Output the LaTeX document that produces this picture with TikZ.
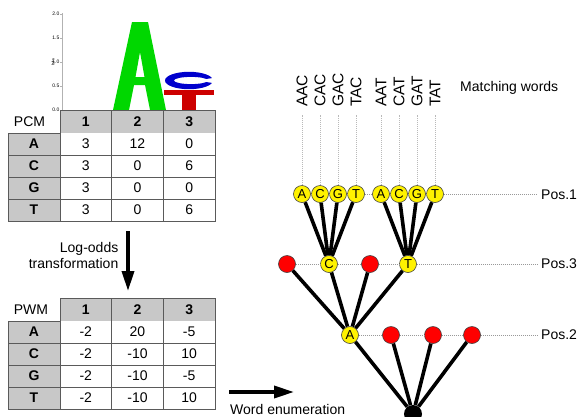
\documentclass[tikz,border=0pt]{standalone}
\usepackage{fontspec}
\setmainfont{Liberation Sans}
\usetikzlibrary{arrows.meta}
\definecolor{logogreen}{RGB}{0,215,0}
\definecolor{logoblue}{RGB}{0,0,205}
\definecolor{logored}{RGB}{205,0,0}
\definecolor{cellgray}{RGB}{200,200,200}
\definecolor{gridgray}{RGB}{90,90,90}
\begin{document}
\begin{tikzpicture}[x=1pt,y=-1pt,
  txt/.style={inner sep=0pt, font=\fontsize{14}{16}\selectfont},
  hdr/.style={txt, font=\fontsize{14}{16}\selectfont\bfseries},
  grid/.style={draw=gridgray, line width=0.7pt},
  circ/.style={circle, minimum size=17pt, inner sep=0pt, draw=black!75, line width=0.6pt, font=\fontsize{13}{13}\selectfont},
  yel/.style={circ, fill=yellow},
  rd/.style={circ, fill=red},
  treeedge/.style={line width=3.6pt, black},
  hdot/.style={draw=gray!80, line width=0.6pt, dash pattern=on 1pt off 1pt},
  vdot/.style={draw=gray!55, line width=0.5pt, dash pattern=on 1pt off 1pt},
  word/.style={inner sep=0pt, rotate=90, anchor=west, font=\fontsize{15.5}{16}\selectfont},
  bigarrow/.style={line width=3.5pt, -{Triangle[length=20pt,width=12pt]}},
  ticklab/.style={inner sep=0pt, anchor=east, font=\fontsize{5}{5}\selectfont}]
\useasboundingbox (0,0) rectangle (579,416);
\clip (0,0) rectangle (579,416);

% ---------------- sequence logo ----------------
\draw[gray!60, line width=0.6pt] (62,13) -- (62,110);
\foreach \yy/\lab in {14/2.0,38/1.5,62/1.0,86/0.5,110/0.0}{
  \draw[gray!60, line width=0.5pt] (60,\yy) -- (62,\yy);
  \node[ticklab] (tick\lab) at (59.5,\yy) {\lab};
}
\node[inner sep=0pt, rotate=90, font=\fontsize{4}{4}\selectfont] (bits) at (53,62) {bits};
% letter A
\fill[logogreen, even odd rule]
  (113,110) -- (132,22) -- (148,22) -- (166,110) -- (150,110) -- (145,85) -- (134,85) -- (129,110) -- cycle
  (135.5,77) -- (140,52) -- (144.5,77) -- cycle;
% letter C
\begin{scope}
  \clip (196,80.5) -- (216,77.5) -- (216,68) -- (160,68) -- (160,93) -- (216,93) -- (216,83.5) -- cycle;
  \fill[logoblue, even odd rule] (189,80.5) ellipse [x radius=24, y radius=8.7]
                                (191,80.5) ellipse [x radius=17, y radius=3.6];
\end{scope}
% letter T
\fill[logored] (164,90) rectangle (214,94.5);
\fill[logored] (182,94.5) rectangle (196,110);

% ---------------- PCM table ----------------
\fill[cellgray] (60,110) rectangle (215,133);
\fill[cellgray] (8,133) rectangle (60,221);
\draw[grid] (60,110) rectangle (215,221);
\draw[grid] (8,133) rectangle (60,221);
\foreach \xx in {111,163} \draw[grid] (\xx,110) -- (\xx,221);
\foreach \yy in {155,177,199} \draw[grid] (8,\yy) -- (215,\yy);
\node[txt] (pcmlab) at (29.5,122) {PCM};
\foreach \t [count=\i] in {1,2,3} \node[hdr] (pcmh\i) at ({60+51.67*(\i-0.5)},122) {\t};
\foreach \t [count=\i] in {A,C,G,T} \node[hdr] (pcmr\i) at (34,{133+22*(\i-0.5)}) {\t};
\foreach \va/\vb/\vc [count=\i] in {3/12/0,3/0/6,3/0/0,3/0/6}{
  \node[txt] (pcm\i a) at (85.8,{133+22*(\i-0.5)}) {\va};
  \node[txt] (pcm\i b) at (137.5,{133+22*(\i-0.5)}) {\vb};
  \node[txt] (pcm\i c) at (189.2,{133+22*(\i-0.5)}) {\vc};
}

% ---------------- log-odds arrow ----------------
\coordinate (lotop) at (128,231);
\coordinate (lobot) at (128,291);
\draw[bigarrow] (lotop) -- (lobot);
\node[txt, align=right, anchor=east] (logodds) at (118.5,255) {Log-odds\\transformation};

% ---------------- PWM table ----------------
\fill[cellgray] (60,298) rectangle (215,321);
\fill[cellgray] (8,321) rectangle (60,409);
\draw[grid] (60,298) rectangle (215,409);
\draw[grid] (8,321) rectangle (60,409);
\foreach \xx in {111,163} \draw[grid] (\xx,298) -- (\xx,409);
\foreach \yy in {343,365,387} \draw[grid] (8,\yy) -- (215,\yy);
\node[txt] (pwmlab) at (31,309.5) {PWM};
\foreach \t [count=\i] in {1,2,3} \node[hdr] (pwmh\i) at ({60+51.67*(\i-0.5)},309.5) {\t};
\foreach \t [count=\i] in {A,C,G,T} \node[hdr] (pwmr\i) at (34,{321+22*(\i-0.5)}) {\t};
\foreach \va/\vb/\vc [count=\i] in {-2/20/-5,-2/-10/10,-2/-10/-5,-2/-10/10}{
  \node[txt] (pwm\i a) at (85.8,{321+22*(\i-0.5)}) {\va};
  \node[txt] (pwm\i b) at (137.5,{321+22*(\i-0.5)}) {\vb};
  \node[txt] (pwm\i c) at (189.2,{321+22*(\i-0.5)}) {\vc};
}

% ---------------- word enumeration arrow ----------------
\coordinate (weleft) at (229,392);
\coordinate (weright) at (294,392);
\draw[bigarrow] (weleft) -- (weright);
\node[txt, anchor=west] (wordenum) at (230,409) {Word enumeration};

% ---------------- tree ----------------
% Pos.1
\node[yel] (a1) at (302,194) {A};
\node[yel] (c1) at (320,194) {C};
\node[yel] (g1) at (338,194) {G};
\node[yel] (t1) at (356,194) {T};
\node[yel] (a2) at (381,194) {A};
\node[yel] (c2) at (399,194) {C};
\node[yel] (g2) at (417,194) {G};
\node[yel] (t2) at (435,194) {T};
% Pos.3
\node[rd]  (r31) at (287,264) {};
\node[yel] (c3)  at (329,264) {C};
\node[rd]  (r32) at (370,264) {};
\node[yel] (t3)  at (408,264) {T};
% Pos.2
\node[yel] (a4)  at (350,335) {A};
\node[rd]  (r41) at (391,335) {};
\node[rd]  (r42) at (433,335) {};
\node[rd]  (r43) at (472,335) {};
% root
\node[circle, fill=black, minimum size=18pt, inner sep=0pt] (root) at (413,414) {};

% position labels
\node[txt, anchor=west] (pos1) at (541,195) {Pos.1};
\node[txt, anchor=west] (pos3) at (541,264) {Pos.3};
\node[txt, anchor=west] (pos2) at (541,335) {Pos.2};
\coordinate (pos1end) at (537,194);
\coordinate (pos3end) at (537,264);
\coordinate (pos2end) at (537,335);

% dotted level lines
\draw[hdot] (a1) -- (c1) -- (g1) -- (t1) -- (a2) -- (c2) -- (g2) -- (t2) -- (pos1end);
\draw[hdot] (r31) -- (c3) -- (r32) -- (t3) -- (pos3end);
\draw[hdot] (a4) -- (r41) -- (r42) -- (r43) -- (pos2end);

% matching words
\foreach \n/\w in {a1/AAC,c1/CAC,g1/GAC,t1/TAC,a2/AAT,c2/CAT,g2/GAT,t2/TAT}{
  \coordinate (\n top) at ([yshift=79pt]\n.center);
  \draw[vdot] (\n) -- (\n top);
  \node[word] (w\n) at ([yshift=87pt]\n.center) {\w};
}
\node[txt, anchor=west] (matching) at (460,88) {Matching words};

% tree edges
\foreach \n in {a1,c1,g1,t1} \draw[treeedge] (\n) -- (c3);
\foreach \n in {a2,c2,g2,t2} \draw[treeedge] (\n) -- (t3);
\foreach \n in {r31,c3,r32,t3} \draw[treeedge] (\n) -- (a4);
\foreach \n in {a4,r41,r42,r43} \draw[treeedge] (\n) -- (root);
\end{tikzpicture}
\end{document}
